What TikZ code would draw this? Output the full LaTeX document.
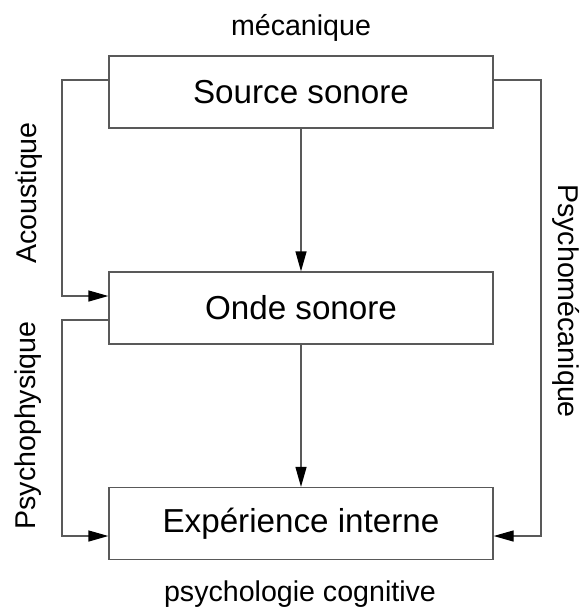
\documentclass[tikz,border=0pt]{standalone}
\usepackage{fontspec}
\setmainfont{Liberation Sans}
\usetikzlibrary{arrows.meta}
\begin{document}
\begin{tikzpicture}[x=1pt,y=-1pt,
  box/.style={draw=black!65, line width=1.3pt, minimum width=384pt, minimum height=72pt,
              inner sep=0pt, font=\fontsize{33.2}{38}\selectfont},
  lbl/.style={font=\fontsize{28.6}{34}\selectfont, inner sep=0pt},
  conn/.style={draw=black!65, line width=1.3pt, -{Triangle[length=20pt,width=11pt,fill=black,color=black]}},
  wire/.style={draw=black!65, line width=1.3pt}]
\useasboundingbox (0,0) rectangle (587,614);
\fill[white] (0,0) rectangle (587,614);

% the three stages
\node[box] (src) at (301,92) {Source sonore};
\node[box] (onde) at (301,308) {Onde sonore};
\node[box] (exp) at (301,523.5) {Expérience interne};

% discipline labels
\node[lbl] (meca) at (301,28) {mécanique};
\node[lbl] (cog) at (300,594) {psychologie cognitive};
\node[lbl, rotate=90] (acou) at (29.5,193) {Acoustique};
\node[lbl, rotate=90] (pphys) at (28,425.5) {Psychophysique};
\node[lbl, rotate=-90] (pmeca) at (566,301) {Psychomécanique};

% bends of the side links
\coordinate (a1) at (62,80);
\coordinate (a2) at (62,296);
\coordinate (b1) at (62,320);
\coordinate (b2) at (62,536);
\coordinate (c1) at (541,80);
\coordinate (c2) at (541,536);

\draw[conn] (src) -- (onde);
\draw[conn] (onde) -- (exp);
\draw[conn] (src.west |- a1) -- (a1) -- (a2) -- (onde.west |- a2);
\draw[conn] (onde.west |- b1) -- (b1) -- (b2) -- (exp.west |- b2);
\draw[conn] (src.east |- c1) -- (c1) -- (c2) -- (exp.east |- c2);
\end{tikzpicture}
\end{document}
